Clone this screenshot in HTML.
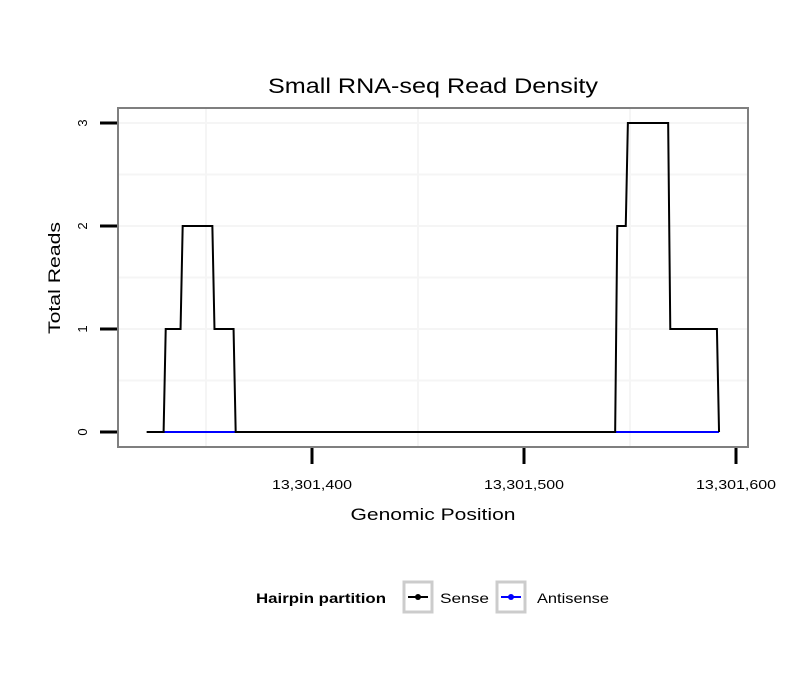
<!DOCTYPE html>
<html><head><meta charset="utf-8"><style>body{margin:0;background:#fff}svg{display:block;font-family:"Liberation Sans",sans-serif}</style></head>
<body>
<svg id="c" width="810" height="690">
<rect width="810" height="690" fill="#fff"/>
<text x="433" y="93" text-anchor="middle" font-size="21" textLength="330" lengthAdjust="spacingAndGlyphs">Small RNA-seq Read Density</text>
<g id="grid"></g>
<g id="series"></g>
<rect x="118" y="108" width="630" height="339" fill="none" stroke="#7f7f7f" stroke-width="2"/>
<g id="axes"></g>
<text x="433" y="520" text-anchor="middle" font-size="17" textLength="165" lengthAdjust="spacingAndGlyphs">Genomic Position</text>
<text transform="translate(60,278) rotate(-90)" text-anchor="middle" font-size="17" textLength="112" lengthAdjust="spacingAndGlyphs">Total Reads</text>
<g>
<text x="256" y="603" font-size="14" font-weight="bold" textLength="130" lengthAdjust="spacingAndGlyphs">Hairpin partition</text>
<g>
<rect x="404" y="582" width="28" height="30" fill="#fff" stroke="#ccc" stroke-width="3"/>
<line x1="408" y1="597" x2="428" y2="597" stroke="#000" stroke-width="2"/><circle cx="418" cy="597" r="3" fill="#000"/>
<text x="440" y="603" font-size="14" textLength="49" lengthAdjust="spacingAndGlyphs">Sense</text></g>
<g>
<rect x="497" y="582" width="28" height="30" fill="#fff" stroke="#ccc" stroke-width="3"/>
<line x1="501" y1="597" x2="521" y2="597" stroke="#00f" stroke-width="2"/><circle cx="511" cy="597" r="3" fill="#00f"/>
<text x="537" y="603" font-size="14" textLength="72" lengthAdjust="spacingAndGlyphs">Antisense</text></g>
</g>
</svg>
<script>
const senseX=[13301322,13301330,13301331,13301338,13301339,13301353,13301354,13301363,13301364,13301543,13301544,13301548,13301549,13301568,13301569,13301591,13301592];
const senseY=[0,0,1,1,2,2,1,1,0,0,2,2,3,3,1,1,0];
const antiX=[13301330,13301592];
const antiY=[0,0];
const xTicks=[13301400,13301500,13301600];
const xTickLabels=["13,301,400","13,301,500","13,301,600"];
const yTicks=[0,1,2,3];
const xGrid=[13301350,13301450,13301550];
const yGrid=[0.5,1,1.5,2,2.5,3];
const sx=v=>312+(v-13301400)*2.12;
const sy=v=>432-v*103;
const NS="http://www.w3.org/2000/svg";
function mk(p,t,a){const e=document.createElementNS(NS,t);for(const k in a)e.setAttribute(k,a[k]);p.appendChild(e);return e;}
const grid=document.getElementById('grid'),ser=document.getElementById('series'),ax=document.getElementById('axes');
xGrid.forEach(v=>{const l=mk(grid,'line',{x1:sx(v),x2:sx(v),y1:108,y2:447,stroke:'#f5f5f5','stroke-width':2});

});
yGrid.forEach(v=>{const l=mk(grid,'line',{x1:118,x2:748,y1:sy(v),y2:sy(v),stroke:'#f5f5f5','stroke-width':2});

});
const pa=antiX.map((x,i)=>sx(x)+','+sy(antiY[i])).join(' ');
const a=mk(ser,'polyline',{points:pa,fill:'none',stroke:'#00f','stroke-width':2});


const ps=senseX.map((x,i)=>sx(x)+','+sy(senseY[i])).join(' ');
const s=mk(ser,'polyline',{points:ps,fill:'none',stroke:'#000','stroke-width':2});


const b1=mk(ser,'line',{x1:sx(13301331),x2:sx(13301363),y1:sy(0),y2:sy(0),stroke:'#00f','stroke-width':2});


const b2=mk(ser,'line',{x1:sx(13301544),x2:sx(13301591),y1:sy(0),y2:sy(0),stroke:'#00f','stroke-width':2});


xTicks.forEach((v,i)=>{const t=mk(ax,'line',{x1:sx(v),x2:sx(v),y1:448,y2:464,stroke:'#000','stroke-width':3});


const tx=mk(ax,'text',{x:sx(v),y:489,'text-anchor':'middle','font-size':13,textLength:80,lengthAdjust:'spacingAndGlyphs'});tx.textContent=xTickLabels[i];

});
yTicks.forEach(v=>{const t=mk(ax,'line',{x1:100,x2:117,y1:sy(v),y2:sy(v),stroke:'#000','stroke-width':3});


const tx=mk(ax,'text',{transform:`translate(87,${sy(v)}) rotate(-90)`,'text-anchor':'middle','font-size':13});tx.textContent=v;

});
</script>
</body></html>
